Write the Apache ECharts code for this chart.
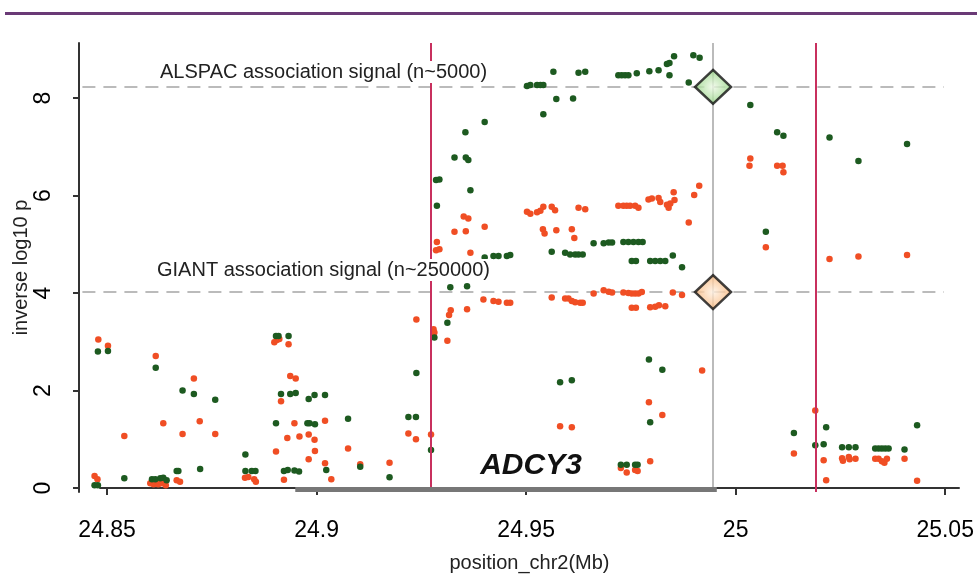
<!DOCTYPE html>
<html>
<head>
<meta charset="utf-8">
<script src="https://cdn.jsdelivr.net/npm/echarts@6/dist/echarts.min.js"></script>
<style>
  html, body { margin: 0; padding: 0; background: #fff; }
  #chart { width: 977px; height: 576px; }
</style>
</head>
<body>
<div id="chart"></div>
<script>
// tick labels
var xTicks = [24.85, 24.9, 24.95, 25, 25.05];
var yTicks = [0, 2, 4, 6, 8];

// ALSPAC (green) SNPs: [position Mb, -log10 p]
var alspac = [
  [24.8478, 2.80], [24.8502, 2.81], [24.8470, 0.06], [24.8478, 0.06], [24.8541, 0.20],
  [24.8607, 0.18], [24.8615, 0.18], [24.8627, 0.20], [24.8634, 0.21], [24.8642, 0.16],
  [24.8616, 2.47], [24.8666, 0.35], [24.8670, 0.35], [24.8680, 2.00], [24.8707, 1.93],
  [24.8758, 1.81], [24.8722, 0.39], [24.8830, 0.69], [24.8830, 0.35], [24.8845, 0.35],
  [24.8854, 0.35], [24.8903, 3.12], [24.8909, 3.12], [24.8933, 3.12], [24.8915, 1.93],
  [24.8937, 1.93], [24.8950, 1.95], [24.8981, 1.83], [24.8995, 1.91], [24.8903, 1.33],
  [24.8978, 1.33], [24.8983, 1.33], [24.8996, 1.31], [24.8922, 0.35], [24.8931, 0.37],
  [24.8947, 0.36], [24.8958, 0.34], [24.9020, 1.91], [24.9023, 0.37], [24.9075, 1.42],
  [24.9104, 0.44], [24.9174, 0.22], [24.9219, 1.46], [24.9237, 1.46], [24.9238, 2.36],
  [24.9273, 0.78], [24.9281, 3.09], [24.9312, 3.39], [24.9319, 4.12], [24.9359, 4.14],
  [24.9394, 4.41], [24.9285, 6.32], [24.9293, 6.33], [24.9287, 5.79], [24.9367, 6.11],
  [24.9329, 6.78], [24.9356, 6.78], [24.9362, 6.73], [24.9355, 7.30], [24.9401, 7.51],
  [24.9502, 8.25], [24.9510, 8.27], [24.9526, 8.27], [24.9534, 8.27], [24.9541, 8.27],
  [24.9541, 7.67], [24.9565, 8.54], [24.9572, 7.98], [24.9612, 7.99], [24.9625, 8.52],
  [24.9641, 8.54], [24.9720, 8.47], [24.9728, 8.47], [24.9736, 8.47], [24.9744, 8.47],
  [24.9764, 8.51], [24.9794, 8.55], [24.9816, 8.57], [24.9836, 8.70], [24.9842, 8.72],
  [24.9853, 8.86], [24.9842, 8.47], [24.9888, 8.32], [24.9899, 8.88], [24.9914, 8.83],
  [24.9401, 4.73], [24.9422, 4.76], [24.9434, 4.76], [24.9454, 4.76], [24.9462, 4.78],
  [24.9561, 4.85], [24.9593, 4.83], [24.9605, 4.79], [24.9617, 4.79], [24.9625, 4.79],
  [24.9635, 4.79], [24.9661, 5.02], [24.9685, 5.02], [24.9697, 5.04], [24.9705, 5.04],
  [24.9732, 5.05], [24.9744, 5.05], [24.9756, 5.05], [24.9768, 5.05], [24.9778, 5.05],
  [24.9752, 4.66], [24.9762, 4.66], [24.9796, 4.66], [24.9808, 4.66], [24.9820, 4.66],
  [24.9832, 4.66], [24.9850, 4.77], [24.9872, 4.53], [24.9581, 2.17], [24.9609, 2.21],
  [24.9793, 2.64], [24.9825, 2.43], [24.9796, 1.35], [24.9726, 0.48], [24.9740, 0.48],
  [24.9760, 0.48], [24.9766, 0.48], [25.0035, 7.86], [25.0099, 7.30], [25.0114, 7.23],
  [25.0224, 7.19], [25.0293, 6.71], [25.0409, 7.06], [25.0072, 5.26], [25.0139, 1.13],
  [25.0190, 0.88], [25.0210, 0.90], [25.0216, 1.25], [25.0254, 0.84], [25.0270, 0.84],
  [25.0286, 0.84], [25.0333, 0.81], [25.0341, 0.81], [25.0349, 0.81], [25.0357, 0.81],
  [25.0365, 0.81], [25.0403, 0.79], [25.0433, 1.29]
];

// GIANT (red) SNPs: [position Mb, -log10 p]
var giant = [
  [24.8479, 3.05], [24.8502, 2.92], [24.8470, 0.25], [24.8477, 0.18], [24.8541, 1.07],
  [24.8603, 0.10], [24.8611, 0.08], [24.8622, 0.08], [24.8631, 0.10], [24.8640, 0.06],
  [24.8616, 2.71], [24.8634, 1.33], [24.8666, 0.16], [24.8674, 0.13], [24.8680, 1.11],
  [24.8707, 2.25], [24.8721, 1.37], [24.8758, 1.11], [24.8829, 0.21], [24.8837, 0.23],
  [24.8851, 0.18], [24.8855, 0.13], [24.8899, 2.99], [24.8905, 3.04], [24.8911, 3.06],
  [24.8933, 2.95], [24.8937, 2.30], [24.8950, 2.25], [24.8915, 1.78], [24.8947, 1.33],
  [24.8930, 1.03], [24.8959, 1.06], [24.8981, 1.10], [24.8995, 0.99], [24.8903, 0.75],
  [24.8996, 0.76], [24.8981, 0.59], [24.8922, 0.17], [24.9020, 1.38], [24.9020, 0.51],
  [24.9035, 0.18], [24.9075, 0.81], [24.9104, 0.49], [24.9174, 0.52], [24.9219, 1.12],
  [24.9237, 1.00], [24.9238, 3.46], [24.9273, 1.10], [24.9279, 3.26], [24.9281, 3.19],
  [24.9312, 3.02], [24.9316, 3.55], [24.9320, 3.65], [24.9359, 3.67], [24.9398, 3.87],
  [24.9422, 3.84], [24.9434, 3.82], [24.9454, 3.80], [24.9462, 3.80], [24.9351, 5.57],
  [24.9362, 5.53], [24.9329, 5.26], [24.9356, 5.27], [24.9401, 5.36], [24.9287, 5.05],
  [24.9285, 4.88], [24.9293, 4.90], [24.9367, 4.83], [24.9502, 5.67], [24.9510, 5.63],
  [24.9526, 5.66], [24.9534, 5.69], [24.9541, 5.77], [24.9561, 5.77], [24.9569, 5.70],
  [24.9625, 5.75], [24.9641, 5.72], [24.9540, 5.31], [24.9544, 5.22], [24.9572, 5.29],
  [24.9609, 5.31], [24.9615, 5.13], [24.9720, 5.79], [24.9732, 5.79], [24.9740, 5.79],
  [24.9748, 5.79], [24.9760, 5.79], [24.9768, 5.75], [24.9792, 5.92], [24.9800, 5.94],
  [24.9816, 5.95], [24.9820, 5.87], [24.9836, 5.81], [24.9840, 5.75], [24.9844, 5.84],
  [24.9854, 5.91], [24.9852, 6.07], [24.9888, 5.45], [24.9901, 6.01], [24.9913, 6.20],
  [24.9561, 3.91], [24.9593, 3.89], [24.9601, 3.89], [24.9609, 3.84], [24.9617, 3.81],
  [24.9629, 3.80], [24.9635, 3.80], [24.9661, 3.99], [24.9685, 4.06], [24.9697, 4.03],
  [24.9705, 4.01], [24.9732, 4.01], [24.9744, 4.00], [24.9752, 3.99], [24.9760, 3.99],
  [24.9768, 3.99], [24.9776, 4.02], [24.9752, 3.70], [24.9762, 3.70], [24.9796, 3.71],
  [24.9808, 3.72], [24.9817, 3.75], [24.9832, 3.73], [24.9850, 4.01], [24.9872, 3.96],
  [24.9581, 1.27], [24.9609, 1.25], [24.9920, 2.41], [24.9793, 1.76], [24.9825, 1.50],
  [24.9796, 0.55], [24.9726, 0.41], [24.9740, 0.32], [24.9760, 0.37], [24.9766, 0.35],
  [25.0035, 6.76], [25.0033, 6.61], [25.0099, 6.61], [25.0112, 6.61], [25.0114, 6.48],
  [25.0072, 4.94], [25.0224, 4.70], [25.0293, 4.75], [25.0409, 4.78], [25.0190, 1.59],
  [25.0139, 0.71], [25.0210, 0.57], [25.0216, 0.16], [25.0254, 0.61], [25.0256, 0.56],
  [25.0270, 0.64], [25.0272, 0.59], [25.0286, 0.60], [25.0333, 0.60], [25.0341, 0.60],
  [25.0349, 0.55], [25.0355, 0.52], [25.0361, 0.60], [25.0403, 0.60], [25.0433, 0.15]
];

// lead SNP and association signal levels
var leadPos = 24.9946;
var alspacSignal = 8.23;
var giantSignal = 4.02;
// region boundaries (red) and gene span
var boundaries = [24.9273, 25.0192];
var geneName = 'ADCY3';
var geneStart = 24.8949, geneEnd = 24.9955;

var FONT = '"Liberation Sans", Arial, Helvetica, sans-serif';
var X_MIN = 24.8483, X_MAX = 25.0533, Y_MIN = -0.08, Y_MAX = 9.13;

var chart = echarts.init(document.getElementById('chart'));

function vline(x, color) {
  return [{ coord: [x, Y_MIN], lineStyle: { color: color, width: 2, type: 'solid' } }, { coord: [x, Y_MAX] }];
}

var option = {
  backgroundColor: '#fff',
  animation: false,
  grid: { left: 100, right: 18, top: 43, bottom: 84, containLabel: false, outerBoundsMode: 'none' },
  xAxis: {
    type: 'value',
    min: X_MIN,
    max: X_MAX,
    offset: 13,
    splitLine: { show: false },
    axisLine: { show: true, lineStyle: { color: '#333', width: 2 } },
    axisTick: { show: true, length: 7, customValues: xTicks, lineStyle: { color: '#333', width: 2 } },
    axisLabel: {
      customValues: xTicks, margin: 14, fontSize: 23, color: '#000', fontFamily: FONT,
      formatter: function (v) { return String(+v.toFixed(2)); }
    },
    name: 'position_chr2(Mb)',
    nameLocation: 'middle',
    nameGap: 48,
    nameMoveOverlap: false,
    nameTextStyle: { fontSize: 20, color: '#222', fontFamily: FONT }
  },
  yAxis: {
    type: 'value',
    min: Y_MIN,
    max: Y_MAX,
    offset: 21,
    splitLine: { show: false },
    axisLine: { show: true, lineStyle: { color: '#333', width: 2 } },
    axisTick: { show: true, length: 6, customValues: yTicks, lineStyle: { color: '#333', width: 2 } },
    axisLabel: {
      customValues: yTicks, rotate: 90, margin: 24, fontSize: 23, color: '#000', fontFamily: FONT
    },
    name: 'inverse log10 p',
    nameLocation: 'middle',
    nameGap: 48,
    nameMoveOverlap: false,
    nameTextStyle: { fontSize: 20, color: '#222', fontFamily: FONT }
  },
  series: [
    {
      // reference lines
      type: 'scatter',
      data: [],
      clip: false,
      silent: true,
      z: 1,
      markLine: {
        silent: true,
        symbol: 'none',
        label: { show: false },
        data: [
          vline(leadPos, '#bbb'),
          vline(boundaries[0], '#c8305e'),
          vline(boundaries[1], '#c8305e'),
          [{ coord: [geneStart, -0.03], lineStyle: { color: '#777', width: 5, type: 'solid', cap: 'butt' } },
           { coord: [geneEnd, -0.03] }]
        ]
      }
    },
    {
      name: 'GIANT',
      type: 'scatter',
      data: giant,
      clip: false,
      symbolSize: 6.5,
      z: 3,
      itemStyle: { color: '#f04e24', opacity: 1 }
    },
    {
      name: 'ALSPAC',
      type: 'scatter',
      data: alspac,
      clip: false,
      symbolSize: 6.5,
      z: 3,
      itemStyle: { color: '#1d5a20', opacity: 1 }
    },
    {
      name: 'lead',
      type: 'scatter',
      clip: false,
      symbol: 'diamond',
      symbolSize: [36, 34],
      z: 5,
      data: [
        {
          value: [leadPos, alspacSignal],
          itemStyle: {
            color: new echarts.graphic.RadialGradient(0.5, 0.5, 0.6, [
              { offset: 0, color: '#eef9e6' }, { offset: 1, color: '#7ec96b' }
            ]),
            borderColor: '#111', borderWidth: 2.5
          }
        },
        {
          value: [leadPos, giantSignal],
          itemStyle: {
            color: new echarts.graphic.RadialGradient(0.5, 0.5, 0.6, [
              { offset: 0, color: '#fff1e2' }, { offset: 1, color: '#f5a55e' }
            ]),
            borderColor: '#111', borderWidth: 2.5
          }
        }
      ]
    }
  ]
};

chart.setOption(option);

// dashed signal lines run from the y axis to just past the lead SNP, drawn through the chart's scales
function signalLine(level) {
  var a = chart.convertToPixel({ gridIndex: 0 }, [24.8441, level]);
  var b = chart.convertToPixel({ gridIndex: 0 }, [25.0497, level]);
  return {
    type: 'line', z: 0, silent: true,
    shape: { x1: a[0], y1: a[1], x2: b[0], y2: b[1] },
    style: { stroke: '#a5a5a5', lineWidth: 1.5, lineDash: [13, 8] }
  };
}

chart.setOption({
  graphic: [
    { type: 'rect', shape: { x: 5, y: 12, width: 972, height: 3 }, style: { fill: '#6a3a76' } },
    signalLine(alspacSignal),
    signalLine(giantSignal),
    {
      type: 'text', x: 157, y: 72, z: 10,
      style: { text: 'ALSPAC association signal (n~5000)', font: '20px ' + FONT, fill: '#222',
        verticalAlign: 'middle', backgroundColor: '#fff', padding: [1, 3] }
    },
    {
      type: 'text', x: 154, y: 270, z: 10,
      style: { text: 'GIANT association signal (n~250000)', font: '20px ' + FONT, fill: '#222',
        verticalAlign: 'middle', backgroundColor: '#fff', padding: [1, 3] }
    },
    {
      type: 'text', x: 531, y: 466, z: 10,
      style: { text: geneName, font: 'italic bold 30px ' + FONT, fill: '#111',
        align: 'center', verticalAlign: 'middle' }
    }
  ]
});
</script>
</body>
</html>
